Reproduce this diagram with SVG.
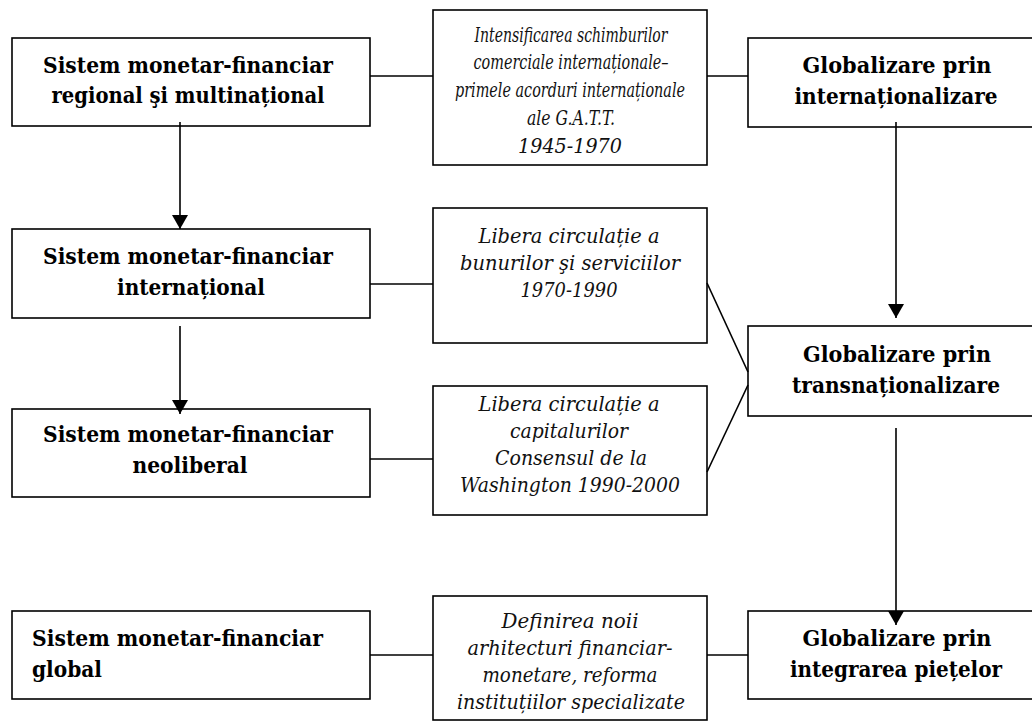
<svg xmlns="http://www.w3.org/2000/svg" width="1032" height="724" viewBox="0 0 1032 724">
<style>
.box{fill:#fff;stroke:#000;stroke-width:1.6}
text{font-family:'DejaVu Serif',serif;fill:#000;text-anchor:middle}
.b{font-weight:bold;font-size:22px}
.i{font-style:italic;font-size:21px;fill:#111}
.c{font-style:italic;font-size:20px;fill:#111}
.ln{stroke:#000;stroke-width:1.6;fill:none}
</style>
<defs>
<marker id="ah" viewBox="0 0 14 16" refX="14" refY="8" markerWidth="14" markerHeight="16" markerUnits="userSpaceOnUse" orient="auto">
<path d="M0,0 L14,8 L0,16 Z" fill="#000"/>
</marker>
<clipPath id="m3clip"><rect x="433" y="386" width="274" height="116"/></clipPath>
</defs>
<rect width="1032" height="724" fill="#fff"/>
<g id="n-l1">
<rect class="box" x="12" y="38" width="358" height="88"/>
<text class="b" x="188" y="73" textLength="290" lengthAdjust="spacingAndGlyphs">Sistem monetar-financiar</text>
<text class="b" x="188" y="103" textLength="273" lengthAdjust="spacingAndGlyphs">regional şi multinațional</text>
</g>
<g id="n-l2">
<rect class="box" x="12" y="229" width="358" height="89"/>
<text class="b" x="188" y="264" textLength="290" lengthAdjust="spacingAndGlyphs">Sistem monetar-financiar</text>
<text class="b" x="191" y="295" textLength="148" lengthAdjust="spacingAndGlyphs">internațional</text>
</g>
<g id="n-l3">
<rect class="box" x="12" y="409" width="358" height="88"/>
<text class="b" x="188" y="442" textLength="290" lengthAdjust="spacingAndGlyphs">Sistem monetar-financiar</text>
<text class="b" x="190" y="473" textLength="115" lengthAdjust="spacingAndGlyphs">neoliberal</text>
</g>
<g id="n-l4">
<rect class="box" x="12" y="611" width="358" height="88"/>
<text class="b" x="32" y="646" style="text-anchor:start" textLength="291" lengthAdjust="spacingAndGlyphs">Sistem monetar-financiar</text>
<text class="b" x="32" y="677" style="text-anchor:start" textLength="70" lengthAdjust="spacingAndGlyphs">global</text>
</g>
<g id="n-m1">
<rect class="box" x="433" y="10" width="274" height="155"/>
<text class="c" x="571" y="42" textLength="193" lengthAdjust="spacingAndGlyphs">Intensificarea schimburilor</text>
<text class="c" x="571" y="69" textLength="195" lengthAdjust="spacingAndGlyphs">comerciale internaționale–</text>
<text class="c" x="570" y="97" textLength="230" lengthAdjust="spacingAndGlyphs">primele acorduri internaționale</text>
<text class="c" x="571" y="125" textLength="88" lengthAdjust="spacingAndGlyphs">ale G.A.T.T.</text>
<text class="i" x="570" y="153" textLength="104" lengthAdjust="spacingAndGlyphs">1945-1970</text>
</g>
<g id="n-m2">
<rect class="box" x="433" y="208" width="274" height="135"/>
<text class="i" x="569" y="243" textLength="181" lengthAdjust="spacingAndGlyphs">Libera circulație a</text>
<text class="i" x="570" y="270" textLength="220" lengthAdjust="spacingAndGlyphs">bunurilor şi serviciilor</text>
<text class="i" x="569" y="297" textLength="97" lengthAdjust="spacingAndGlyphs">1970-1990</text>
</g>
<g id="n-m3">
<rect class="box" x="433" y="386" width="274" height="129"/>
<g clip-path="url(#m3clip)">
<text class="i" x="569" y="411" textLength="181" lengthAdjust="spacingAndGlyphs">Libera circulație a</text>
<text class="i" x="569" y="438" textLength="118" lengthAdjust="spacingAndGlyphs">capitalurilor</text>
<text class="i" x="571" y="465" textLength="152" lengthAdjust="spacingAndGlyphs">Consensul de la</text>
<text class="i" x="570" y="492" textLength="220" lengthAdjust="spacingAndGlyphs">Washington 1990-2000</text>
</g>
</g>
<g id="n-m4">
<rect class="box" x="433" y="596" width="274" height="124"/>
<text class="i" x="570" y="628" textLength="137" lengthAdjust="spacingAndGlyphs">Definirea noii</text>
<text class="i" x="570" y="655" textLength="205" lengthAdjust="spacingAndGlyphs">arhitecturi financiar-</text>
<text class="i" x="570" y="682" textLength="175" lengthAdjust="spacingAndGlyphs">monetare, reforma</text>
<text class="i" x="571" y="709" textLength="228" lengthAdjust="spacingAndGlyphs">instituțiilor specializate</text>
</g>
<g id="n-r1">
<rect class="box" x="748" y="38" width="296" height="89"/>
<text class="b" x="897" y="73" textLength="189" lengthAdjust="spacingAndGlyphs">Globalizare prin</text>
<text class="b" x="896" y="104" textLength="203" lengthAdjust="spacingAndGlyphs">internaționalizare</text>
</g>
<g id="n-r2">
<rect class="box" x="748" y="326" width="296" height="90"/>
<text class="b" x="897" y="362" textLength="188" lengthAdjust="spacingAndGlyphs">Globalizare prin</text>
<text class="b" x="896" y="393" textLength="208" lengthAdjust="spacingAndGlyphs">transnaționalizare</text>
</g>
<g id="n-r3">
<rect class="box" x="748" y="611" width="296" height="88"/>
<text class="b" x="897" y="646" textLength="189" lengthAdjust="spacingAndGlyphs">Globalizare prin</text>
<text class="b" x="896" y="677" textLength="212" lengthAdjust="spacingAndGlyphs">integrarea piețelor</text>
</g>
<g id="connectors">
<line class="ln" x1="370" y1="76" x2="433" y2="76"/>
<line class="ln" x1="707" y1="76" x2="748" y2="76"/>
<line class="ln" x1="370" y1="284" x2="433" y2="284"/>
<line class="ln" x1="370" y1="459" x2="433" y2="459"/>
<line class="ln" x1="370" y1="655" x2="433" y2="655"/>
<line class="ln" x1="707" y1="655" x2="748" y2="655"/>
<line class="ln" x1="707" y1="283" x2="748" y2="372"/>
<line class="ln" x1="707" y1="472" x2="748" y2="385"/>
<line class="ln" x1="180" y1="122" x2="180" y2="229" marker-end="url(#ah)"/>
<line class="ln" x1="180" y1="326" x2="180" y2="414" marker-end="url(#ah)"/>
<line class="ln" x1="896" y1="122" x2="896" y2="318" marker-end="url(#ah)"/>
<line class="ln" x1="896" y1="428" x2="896" y2="625" marker-end="url(#ah)"/>
</g>
</svg>
